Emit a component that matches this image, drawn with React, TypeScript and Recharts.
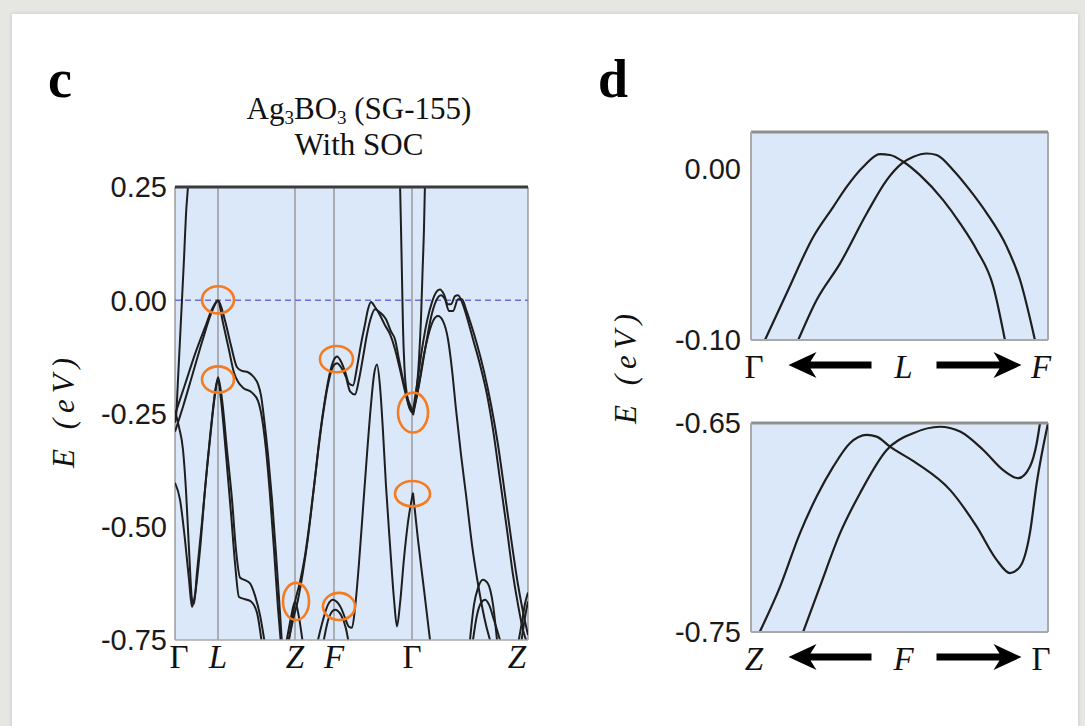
import React from 'react'
import { ComposedChart, Line, Scatter, XAxis, YAxis, CartesianGrid, ReferenceLine } from 'recharts'

const SERIF = '"Liberation Serif", "Times New Roman", serif'
const SANS = '"Liberation Sans", Arial, sans-serif'
const PLOT_BG = '#dbe8f9'
const BAND = '#1e1e1e'
const RING = '#f47b20'

type Pt = [number, number]

// ---- panel c: full path ----
const kPoints = [0, 43, 120, 159, 237, 353]
const kLabels = ['Γ', 'L', 'Z', 'F', 'Γ', 'Z']
const eTicksC = [0.25, 0, -0.25, -0.5, -0.75]
const eDomainC = [-0.75, 0.25]

const band01: Pt[] = [[0, -0.27], [1, -0.259], [3, -0.175], [6, -0.042], [9, 0.091], [11, 0.19], [13, 0.252], [14, 0.29]]
const band02a: Pt[] = [[1, -0.246], [10, -0.186], [20, -0.119], [30, -0.06], [37, -0.02], [43, 0], [50, -0.045], [56, -0.1], [62, -0.148], [67, -0.156], [73, -0.159], [79, -0.17], [83, -0.185], [86, -0.21], [89, -0.26], [93, -0.34], [97, -0.44], [101, -0.56], [105, -0.69], [107, -0.76]]
const band02b: Pt[] = [[0, -0.29], [8, -0.235], [18, -0.16], [28, -0.085], [36, -0.03], [43, -0.002], [48, -0.05], [54, -0.11], [59, -0.16], [63, -0.18], [68, -0.193], [77, -0.204], [83, -0.222], [87, -0.26], [91, -0.33], [95, -0.43], [99, -0.55], [103, -0.68], [106, -0.76]]
const band03: Pt[] = [[0, -0.403], [5, -0.44], [10, -0.529], [14, -0.617], [17, -0.677], [20, -0.65], [25, -0.551], [30, -0.418], [35, -0.307], [40, -0.208], [43, -0.17], [47, -0.219], [52, -0.33], [57, -0.44], [61, -0.551], [65, -0.612], [70, -0.618], [75, -0.625], [80, -0.652], [85, -0.695], [90, -0.76]]
const band04: Pt[] = [[0, -0.245], [4, -0.28], [8, -0.33], [11, -0.42], [14, -0.55], [17, -0.66], [19, -0.67], [22, -0.6], [27, -0.49], [32, -0.37], [37, -0.26], [41, -0.19], [43, -0.175], [46, -0.22], [51, -0.34], [56, -0.47], [60, -0.58], [64, -0.655], [70, -0.66], [76, -0.665], [82, -0.69], [87, -0.76]]
const band05: Pt[] = [[111, -0.76], [116, -0.7], [120, -0.665], [124, -0.7], [128, -0.76]]
const band06a: Pt[] = [[113, -0.76], [116, -0.72], [120, -0.666], [125, -0.622], [130, -0.564], [135, -0.484], [140, -0.392], [145, -0.296], [150, -0.219], [155, -0.159], [159, -0.131], [162, -0.124], [166, -0.135], [170, -0.157], [174, -0.184], [178, -0.188], [182, -0.148], [186, -0.097], [190, -0.053], [193, -0.02], [196, -0.004], [200, -0.015], [205, -0.033], [210, -0.055], [215, -0.075], [220, -0.108], [225, -0.153], [230, -0.201], [235, -0.241], [238, -0.25]]
const band06b: Pt[] = [[113, -0.76], [118, -0.706], [123, -0.661], [128, -0.599], [133, -0.524], [138, -0.431], [143, -0.336], [148, -0.252], [153, -0.186], [158, -0.146], [162, -0.139], [166, -0.148], [171, -0.17], [175, -0.201], [180, -0.208], [184, -0.175], [188, -0.126], [192, -0.075], [196, -0.038], [200, -0.02], [205, -0.027], [211, -0.042], [216, -0.069], [220, -0.086], [224, -0.131], [228, -0.175], [233, -0.219], [238, -0.245]]
const band07: Pt[] = [[143, -0.75], [148, -0.706], [153, -0.672], [158, -0.661], [162, -0.666], [166, -0.679], [170, -0.701], [174, -0.721], [177, -0.723], [180, -0.68], [184, -0.58], [188, -0.46], [192, -0.34], [196, -0.23], [199, -0.165], [202, -0.142], [205, -0.19], [208, -0.29], [211, -0.41], [215, -0.54], [219, -0.66], [222, -0.72], [225, -0.67], [229, -0.57], [233, -0.49], [238, -0.425]]
const band07b: Pt[] = [[148, -0.76], [154, -0.7], [160, -0.683], [166, -0.695], [171, -0.725], [174, -0.76]]
const band09: Pt[] = [[225, 0.26], [226, 0.16], [227, 0.05], [228, -0.06], [229.5, -0.15], [232, -0.21], [235, -0.24], [238, -0.248]]
const band10: Pt[] = [[238, -0.248], [241, -0.21], [244, -0.13], [246, -0.04], [247.5, 0.06], [249, 0.16], [250, 0.26]]
const band11a: Pt[] = [[238, -0.245], [242, -0.186], [247, -0.108], [252, -0.046], [257, -0.004], [262, 0.02], [265, 0.024], [269, 0.013], [273, -0.009], [276, -0.009], [280, 0.009], [283, 0.011], [287, -0.004], [292, -0.038], [298, -0.086], [305, -0.142], [312, -0.208], [318, -0.285], [325, -0.396], [332, -0.507], [338, -0.606], [343, -0.672], [348, -0.728], [351, -0.75]]
const band11b: Pt[] = [[238, -0.254], [245, -0.175], [251, -0.097], [256, -0.038], [261, -0.002], [266, 0.011], [270, 0.002], [274, -0.024], [278, -0.024], [283, 0.002], [287, 0.002], [291, -0.02], [296, -0.053], [302, -0.097], [309, -0.157], [316, -0.23], [323, -0.319], [330, -0.429], [337, -0.54], [343, -0.628], [348, -0.688], [353, -0.739]]
const band12: Pt[] = [[238, -0.248], [243, -0.197], [248, -0.131], [253, -0.08], [258, -0.046], [263, -0.035], [268, -0.046], [273, -0.086], [277, -0.153], [281, -0.241], [286, -0.341], [291, -0.429], [297, -0.54], [304, -0.639], [311, -0.717], [315, -0.75]]
const band14: Pt[] = [[238, -0.425], [243, -0.529], [249, -0.639], [255, -0.75]]
const band16a: Pt[] = [[295, -0.75], [299, -0.672], [303, -0.635], [308, -0.617], [313, -0.626], [318, -0.672], [322, -0.75]]
const band16b: Pt[] = [[298, -0.75], [302, -0.695], [306, -0.668], [310, -0.661], [314, -0.672], [319, -0.706], [325, -0.75]]
const band17a: Pt[] = [[343, -0.76], [347, -0.71], [350, -0.67], [353, -0.645]]
const band17b: Pt[] = [[346, -0.76], [350, -0.7], [353, -0.665]]

const bandsC = [band01, band02a, band02b, band03, band04, band05, band06a, band06b, band07, band07b,
  band09, band10, band11a, band11b, band12, band14, band16a, band16b, band17a, band17b]

// circled points: centre (k, E) and half extent (dk, dE)
const ringK = [43, 43, 161.5, 238, 237.5, 121, 164]
const ringE = [0.001, -0.175, -0.13, -0.248, -0.427, -0.665, -0.676]
const ringDk = [16, 16, 16.5, 15, 17.5, 13, 16]
const ringDe = [0.03, 0.029, 0.029, 0.044, 0.028, 0.041, 0.03]

// ---- panel d: zooms ----
const tDomain = [0, 100]
const tTicks = [0, 50, 100]
const dTopLabels = ['Γ', 'L', 'F']
const dBotLabels = ['Z', 'F', 'Γ']
const dTopTicks = [0, -0.1]
const dTopDomain = [-0.1, 0.021]
const dBotTicks = [-0.65, -0.75]
const dBotDomain = [-0.75, -0.65]

const dTopA: Pt[] = [[4.7, -0.1], [12, -0.0728], [21, -0.0399], [27.7, -0.0225], [32.2, -0.0109], [37.8, 0.0008], [43.4, 0.0081], [46.8, 0.0076], [51.3, 0.0037], [56.9, -0.0041], [64.7, -0.0186], [70.4, -0.0321], [76, -0.0476], [81.6, -0.069], [85.5, -0.1]]
const dTopB: Pt[] = [[15.9, -0.1], [22.1, -0.0767], [30, -0.0554], [39, -0.0263], [45.7, -0.007], [50.8, 0.0027], [54.7, 0.0066], [59.2, 0.0085], [62.5, 0.0076], [68.1, -0.0012], [73.7, -0.0128], [79.4, -0.0263], [86.1, -0.0457], [90.6, -0.0651], [95.6, -0.1]]
const dBotC: Pt[] = [[3, -0.7498], [9.8, -0.7283], [16.5, -0.7027], [22.1, -0.6852], [27.7, -0.6709], [33.3, -0.6597], [39, -0.6557], [42.3, -0.6565], [46.8, -0.6613], [55.8, -0.6693], [67, -0.682], [76, -0.6996], [82.7, -0.7155], [87.2, -0.7218], [90.6, -0.7187], [93.9, -0.7027], [96.2, -0.6788], [100, -0.6501]]
const dBotD: Pt[] = [[17.6, -0.7498], [23.2, -0.7283], [30, -0.7027], [36.7, -0.6836], [45.7, -0.6629], [54.6, -0.6549], [63.6, -0.6518], [70.4, -0.6541], [78.2, -0.6629], [84.9, -0.6725], [90, -0.6764], [93.9, -0.6709], [96.2, -0.6597], [97.3, -0.6501]]

const rows = (b: Pt[]) => b.map(([k, E]) => ({ k, E }))

// plot area of panel c in px (for ring sizes)
const C_W = 353
const C_H = 453

function PanelC() {
  const rings = ringK.map((k, i) => ({ k, E: ringE[i], dk: ringDk[i], dE: ringDe[i] }))
  const pxK = C_W / (kPoints[kPoints.length - 1] - kPoints[0])
  const pxE = C_H / (eDomainC[1] - eDomainC[0])
  return (
    <ComposedChart width={560} height={700} margin={{ top: 157, right: 32, bottom: 30, left: 115 }}>
      <CartesianGrid fill={PLOT_BG} horizontal={false} vertical={false} />
      <XAxis
        dataKey="k"
        type="number"
        domain={[kPoints[0], kPoints[kPoints.length - 1]]}
        ticks={kPoints}
        allowDataOverflow
        height={30}
        axisLine={{ stroke: '#a8a8a8', strokeWidth: 1.5 }}
        tickLine={false}
        tick={(p: any) => {
          const i = kPoints.indexOf(p.payload.value)
          const lab = kLabels[i]
          const dx = i === 0 ? 4 : i === kLabels.length - 1 ? -11 : 0
          return (
            <text x={p.x + dx} y={p.y} dy={20} textAnchor="middle" fontFamily={SERIF} fontSize={33}
              fontStyle={lab === 'Γ' ? 'normal' : 'italic'} fill="#111">{lab}</text>
          )
        }}
      />
      <XAxis
        xAxisId="top"
        orientation="top"
        type="number"
        domain={[kPoints[0], kPoints[kPoints.length - 1]]}
        ticks={kPoints}
        height={30}
        axisLine={{ stroke: '#3a3a3a', strokeWidth: 3 }}
        tickLine={{ stroke: '#666' }}
        tickSize={5}
        tick={false}
      />
      <YAxis
        type="number"
        domain={eDomainC}
        ticks={eTicksC}
        allowDataOverflow
        width={60}
        axisLine={false}
        tickLine={false}
        tick={(p: any) => (
          <text x={p.x} y={p.y} dy="0.36em" textAnchor="end" fontFamily={SANS} fontSize={29} fill="#1a1a1a">
            {p.payload.value.toFixed(2)}
          </text>
        )}
      />
      {kPoints.map((k) => (
        <ReferenceLine key={k} x={k} stroke="#8e8e8e" strokeWidth={1.3} />
      ))}
      <ReferenceLine y={0} stroke="#6d6ddc" strokeWidth={1.5} strokeDasharray="6 4" />
      {bandsC.map((b, i) => (
        <Line key={i} data={rows(b)} dataKey="E" type="monotone" stroke={BAND} strokeWidth={2}
          dot={false} activeDot={false} isAnimationActive={false} />
      ))}
      <Scatter
        data={rings}
        dataKey="E"
        isAnimationActive={false}
        shape={(p: any) => (
          <ellipse cx={p.cx} cy={p.cy} rx={p.payload.dk * pxK} ry={p.payload.dE * pxE}
            fill="none" stroke={RING} strokeWidth={2.6} />
        )}
      />
    </ComposedChart>
  )
}

function Arrow({ tip, tail, y }: { tip: number; tail: number; y: number }) {
  const s = tip < tail ? 1 : -1
  const pts = [
    [tip, y], [tip + s * 28, y - 13], [tip + s * 22, y - 3.5], [tail, y - 3.5],
    [tail, y + 3.5], [tip + s * 22, y + 3.5], [tip + s * 28, y + 13],
  ].map((q) => q.join(',')).join(' ')
  return <polygon points={pts} fill="#000" />
}

function ZoomPanel({ height, mTop, mBottom, domain, ticks, labels, curves }: {
  height: number; mTop: number; mBottom: number; domain: number[]; ticks: number[]; labels: string[]; curves: Pt[][]
}) {
  return (
    <ComposedChart width={445} height={height} margin={{ top: mTop, right: 37, bottom: mBottom, left: 51 }}>
      <CartesianGrid fill={PLOT_BG} horizontal={false} vertical={false} />
      <XAxis
        dataKey="k"
        type="number"
        domain={tDomain}
        ticks={tTicks}
        allowDataOverflow
        height={50}
        axisLine={{ stroke: '#a9a9a9', strokeWidth: 2 }}
        tickLine={false}
        tick={(p: any) => {
          const i = tTicks.indexOf(p.payload.value)
          const lab = labels[i]
          const dx = i === 0 ? 3 : i === 2 ? -7 : 4
          const ay = p.y + 17
          return (
            <g>
              <text x={p.x + dx} y={p.y} dy={30} textAnchor="middle" fontFamily={SERIF} fontSize={33}
                fontStyle={lab === 'Γ' ? 'normal' : 'italic'} fill="#111">{lab}</text>
              {i === 1 && <Arrow tip={p.x - 111} tail={p.x - 28} y={ay} />}
              {i === 1 && <Arrow tip={p.x + 122} tail={p.x + 37} y={ay} />}
            </g>
          )
        }}
      />
      <XAxis
        xAxisId="top"
        orientation="top"
        type="number"
        domain={tDomain}
        ticks={[tTicks[1]]}
        height={30}
        axisLine={{ stroke: '#8f8f8f', strokeWidth: 3 }}
        tickLine={{ stroke: '#aaa' }}
        tickSize={4}
        tick={false}
      />
      <YAxis
        type="number"
        domain={domain}
        ticks={ticks}
        allowDataOverflow
        width={60}
        axisLine={{ stroke: '#a9a9a9', strokeWidth: 2 }}
        tickLine={false}
        tickMargin={4}
        tick={(p: any) => (
          <text x={p.x} y={p.y} dy="0.36em" textAnchor="end" fontFamily={SANS} fontSize={29} fill="#1a1a1a">
            {p.payload.value.toFixed(2)}
          </text>
        )}
      />
      <ReferenceLine x={tDomain[1]} stroke="#a9a9a9" strokeWidth={2} />
      {curves.map((c, i) => (
        <Line key={i} data={rows(c)} dataKey="E" type="monotone" stroke={BAND} strokeWidth={2.2}
          dot={false} activeDot={false} isAnimationActive={false} />
      ))}
    </ComposedChart>
  )
}

export default function App() {
  return (
    <div style={{ position: 'absolute', left: 0, top: 0, width: 1085, height: 726, background: '#e6e6e3', overflow: 'hidden' }}>
      <div style={{ position: 'absolute', left: 12, top: 14, right: 7, bottom: -10, background: '#fff', boxShadow: '0 0 4px rgba(0,0,0,0.15)' }} />
      <div style={{ position: 'absolute', left: 0, top: 0 }}>
        <PanelC />
      </div>
      <div style={{ position: 'absolute', left: 640, top: 0 }}>
        <ZoomPanel height={400} mTop={102} mBottom={10} domain={dTopDomain} ticks={dTopTicks} labels={dTopLabels} curves={[dTopA, dTopB]} />
      </div>
      <div style={{ position: 'absolute', left: 640, top: 390 }}>
        <ZoomPanel height={310} mTop={3} mBottom={18} domain={dBotDomain} ticks={dBotTicks} labels={dBotLabels} curves={[dBotC, dBotD]} />
      </div>
      <svg width={1085} height={726} style={{ position: 'absolute', left: 0, top: 0, pointerEvents: 'none' }}>
        <text x={48} y={97} fontFamily={SERIF} fontWeight="bold" fontSize={54} fill="#000">c</text>
        <text x={598} y={97} fontFamily={SERIF} fontWeight="bold" fontSize={54} fill="#000">d</text>
        <text x={359} y={119} textAnchor="middle" fontFamily={SERIF} fontSize={31} fill="#111">
          Ag<tspan fontSize={19} dy={5}>3</tspan><tspan dy={-5}>BO</tspan><tspan fontSize={19} dy={5}>3</tspan><tspan dy={-5}> (SG-155)</tspan>
        </text>
        <text x={359} y={155} textAnchor="middle" fontFamily={SERIF} fontSize={31} fill="#111">With SOC</text>
        <text x={74} y={410} transform="rotate(-90 74 410)" textAnchor="middle" fontFamily={SERIF} fontStyle="italic" fontSize={31} letterSpacing={6} fill="#111">E (eV)</text>
        <text x={636} y={366} transform="rotate(-90 636 366)" textAnchor="middle" fontFamily={SERIF} fontStyle="italic" fontSize={31} letterSpacing={6} fill="#111">E (eV)</text>
      </svg>
    </div>
  )
}
